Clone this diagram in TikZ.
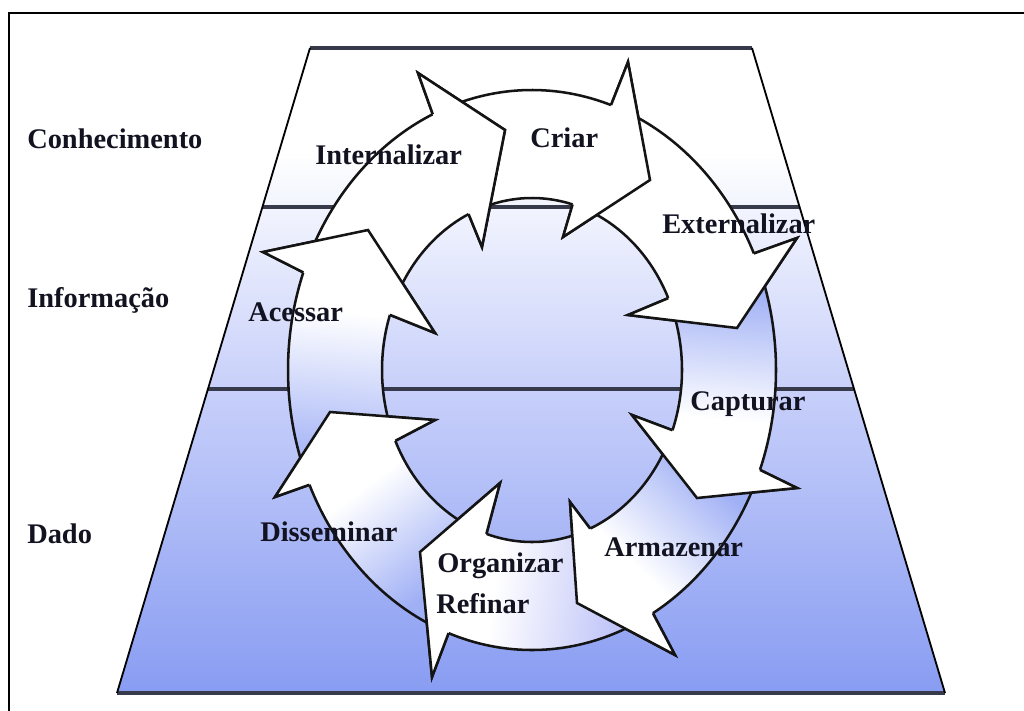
\documentclass[tikz,border=0pt]{standalone}
\usepackage{fontspec}
\setmainfont{Liberation Serif}
\usetikzlibrary{calc}

\definecolor{tailblue}{RGB}{160,176,245}
\definecolor{lavtail}{RGB}{192,196,248}
\definecolor{acctail}{RGB}{172,186,247}
\definecolor{bandbot}{RGB}{136,156,242}
\definecolor{bandmid}{RGB}{200,208,250}
\definecolor{edgegray}{RGB}{55,58,75}
\definecolor{inkcol}{RGB}{18,18,32}
\colorlet{tailc}{tailblue}

% background of the pyramid: white at the top, blue at the base
\pgfdeclareverticalshading{bandfade}{100bp}{color(0bp)=(bandbot); color(25bp)=(bandbot);
  color(48.6bp)=(bandmid); color(67bp)=(white); color(100bp)=(white)}
% cycle arrows: coloured tail fading to a white head
\pgfdeclareverticalshading[tailc]{arrowfade}{100bp}{color(0bp)=(tailc); color(29bp)=(tailc);
  color(58bp)=(white); color(100bp)=(white)}

\tikzset{
  ringarrow/.style={line width=1.8pt, draw=black!92, line join=miter, miter limit=6},
  layerlabel/.style={anchor=base west, inner sep=0pt, text=inkcol,
    font=\fontsize{20.2pt}{24pt}\selectfont\bfseries},
  steplabel/.style={layerlabel},
  bandline/.style={line width=2.3pt, draw=edgegray},
}

% one curved arrow of the ring
% #1/#2 tail angle (outer/inner), #3/#4 head start angle (outer/inner),
% #5 outer barb, #6 tip, #7 inner barb, #8 shading angle, #9 tail colour
\newcommand\arrowbody[9]{%
  \colorlet{tailc}{#9}%
  \shadedraw[ringarrow, shading=arrowfade, shading angle=#8]
    ($(O)+(#1:244 and 280)$) arc[start angle=#1, end angle=#3, x radius=244, y radius=280]
    -- (#5) -- (#6) -- (#7) -- ($(O)+(#4:150 and 172)$)
    arc[start angle=#4, end angle=#2, x radius=150, y radius=172] -- cycle;}
% the head again, so that it lies over the tail of the following arrow
\newcommand\arrowtip[9]{%
  \fill[white] ($(O)+(#3:244 and 280)$) -- (#5) -- (#6) -- (#7) -- ($(O)+(#4:150 and 172)$) -- cycle;
  \draw[ringarrow] ($(O)+(#3:244 and 280)$) -- (#5) -- (#6) -- (#7) -- ($(O)+(#4:150 and 172)$);}

\newcommand\ringarrows{%
  \onearrow{-111}{-112}{-71.1}{-74.3}{628,62}{650,180}{563,237}{-96}{white}%
  \onearrow{-68.1}{-71.3}{-24.6}{-24.7}{797,238}{737,328}{628,315}{-142}{white}%
  \onearrow{-21.6}{-21.7}{20.9}{20.5}{797,488}{697,498}{632,415}{175}{tailblue}%
  \onearrow{23.9}{23.5}{60.3}{67.2}{675,655}{577,603}{570,502}{136}{tailblue}%
  \onearrow{63.3}{70.2}{110}{107.7}{432,677}{420,552}{500,483}{82}{lavtail}%
  \onearrow{113}{110.7}{155.8}{155.7}{275,497}{330,412}{435,420}{37}{tailblue}%
  \onearrow{158.8}{158.7}{200.4}{198.7}{263,252}{368,230}{435,333}{-5}{acctail}%
  \onearrow{203.4}{201.7}{246}{245}{418,73}{505,130}{482,247}{-46}{white}%
}

\begin{document}
\begin{tikzpicture}[x=0.025cm, y=-0.025cm]
  \useasboundingbox (0,0) rectangle (1024,710);
  \fill[white] (0,0) rectangle (1024,710);

  % frame
  \draw[line width=1.6pt, black] (9,712) -- (9,13) -- (1026,13);

  % pyramid with its three layers
  \coordinate (TL) at (310,48);
  \coordinate (TR) at (752,48);
  \coordinate (BR) at (945,693);
  \coordinate (BL) at (117,693);
  \shade[shading=bandfade] (TL) -- (TR) -- (BR) -- (BL) -- cycle;
  \coordinate (L1) at (262.4,207);
  \coordinate (R1) at (799.6,207);
  \coordinate (L2) at (208,389);
  \coordinate (R2) at (854,389);
  \draw[bandline] (L1) -- (R1);
  \draw[bandline] (L2) -- (R2);
  \draw[bandline] (TL) -- (TR);
  \draw[bandline] (BL) -- (BR);
  \draw[line width=1.3pt, black] (TL) -- (BL);
  \draw[line width=1.3pt, black] (TR) -- (BR);

  % ring of arrows
  \coordinate (O) at (532,370);
  \let\onearrow\arrowbody \ringarrows
  \let\onearrow\arrowtip \ringarrows

  % layer names
  \node[layerlabel] (conh) at (27,148) {Conhecimento};
  \node[layerlabel] (info) at (27,307) {Informação};
  \node[layerlabel] (dado) at (27,543) {Dado};

  % step names
  \node[steplabel] (criar) at (530,147) {Criar};
  \node[steplabel] (ext) at (662,233) {Externalizar};
  \node[steplabel] (capt) at (690,410) {Capturar};
  \node[steplabel] (arm) at (604,556) {Armazenar};
  \node[steplabel] (org) at (437,572) {Organizar};
  \node[steplabel] (ref) at (436,613) {Refinar};
  \node[steplabel] (diss) at (260,541) {Disseminar};
  \node[steplabel] (aces) at (248,321) {Acessar};
  \node[steplabel] (intern) at (315,164) {Internalizar};
\end{tikzpicture}
\end{document}
